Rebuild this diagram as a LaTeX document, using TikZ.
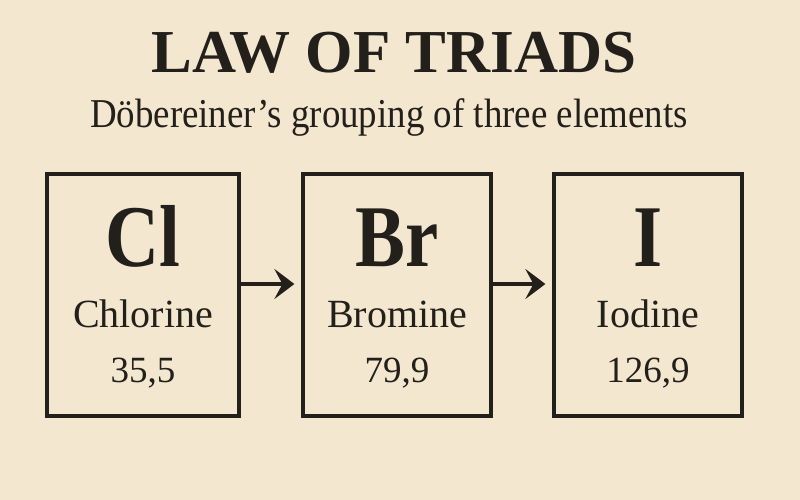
\documentclass[tikz,border=0pt]{standalone}
\usepackage{fontspec}
\setmainfont{Liberation Serif}
\newfontfamily\symfont[FakeStretch=0.85]{Liberation Serif}
\newfontfamily\subfont[FakeStretch=0.9]{Liberation Serif}
\usetikzlibrary{arrows.meta}
\definecolor{paper}{HTML}{F3E7D0}
\definecolor{ink}{HTML}{231F1A}
\begin{document}
\begin{tikzpicture}[x=1pt,y=-1pt,
  elembox/.style={draw=ink,line width=3.2pt,minimum height=242pt,inner sep=0pt},
  symtxt/.style={anchor=base,text=ink,font=\symfont\bfseries\fontsize{88}{96}\selectfont},
  nametxt/.style={anchor=base,text=ink,font=\fontsize{40}{46}\selectfont},
  numtxt/.style={anchor=base,text=ink,font=\fontsize{37}{42}\selectfont},
  arr/.style={draw=ink,line width=3.6pt,-{Stealth[length=20pt,width=30pt,inset=8pt]},shorten >=7pt}]
\fill[paper] (0,0) rectangle (800,500);
\useasboundingbox (0,0) rectangle (800,500);
\node[anchor=base,text=ink,font=\bfseries\fontsize{61}{70}\selectfont] (title) at (394,73) {LAW OF TRIADS};
\node[anchor=base,text=ink,font=\subfont\fontsize{41}{48}\selectfont] (sub) at (389,128) {Döbereiner’s grouping of three elements};
\node[elembox,minimum width=192pt] (b1) at (143,295) {};
\node[elembox,minimum width=188pt] (b2) at (397,295) {};
\node[elembox,minimum width=188pt] (b3) at (648,295) {};
\node[symtxt] (s1) at (143,266) {Cl};
\node[symtxt] (s2) at (397,266) {Br};
\node[symtxt] (s3) at (648,266) {I};
\node[nametxt] (n1) at (143,327) {Chlorine};
\node[nametxt] (n2) at (397,327) {Bromine};
\node[nametxt] (n3) at (648,327) {Iodine};
\node[numtxt] (m1) at (143,382) {35,5};
\node[numtxt] (m2) at (397,382) {79,9};
\node[numtxt] (m3) at (648,382) {126,9};
\coordinate (ay) at (0,284);
\draw[arr] (b1.east |- ay) -- (b2.west |- ay);
\draw[arr] (b2.east |- ay) -- (b3.west |- ay);
\end{tikzpicture}
\end{document}
